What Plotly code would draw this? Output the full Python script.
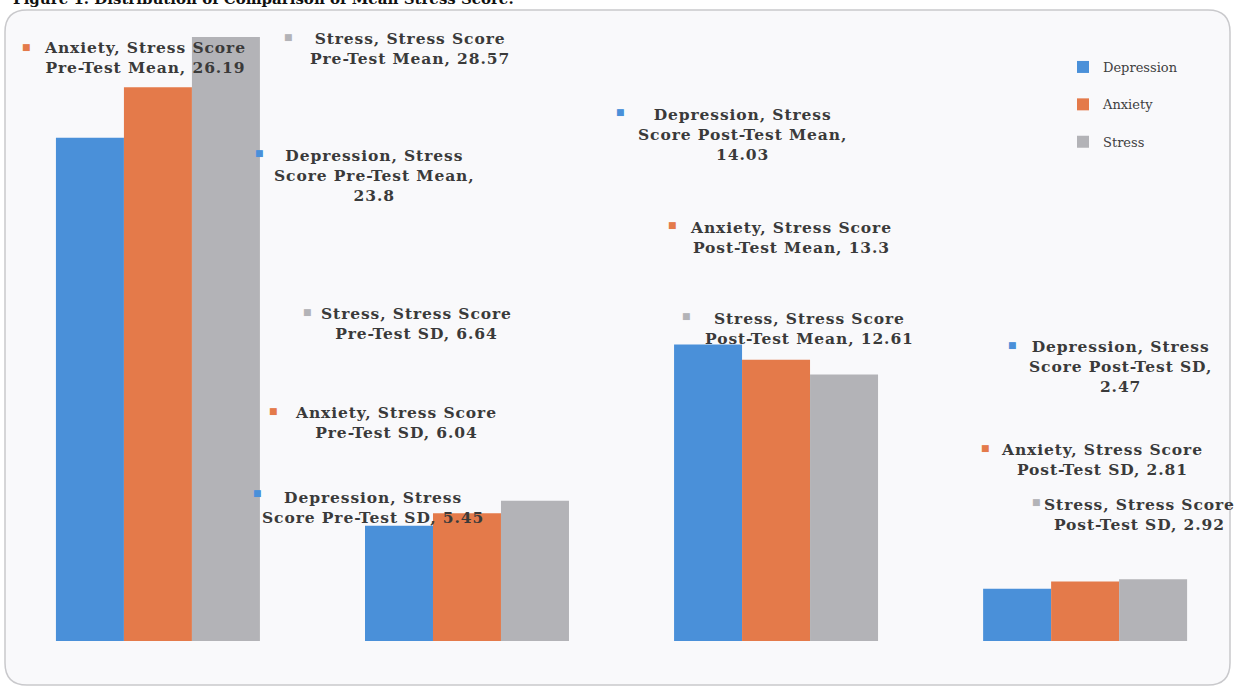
import plotly.graph_objects as go

# ---- data ----
categories = ["Stress Score Pre-Test Mean", "Stress Score Pre-Test SD",
              "Stress Score Post-Test Mean", "Stress Score Post-Test SD"]
short_cats = ["Pre-Test Mean", "Pre-Test SD", "Post-Test Mean", "Post-Test SD"]
depression = [23.8, 5.45, 14.03, 2.47]
anxiety = [26.19, 6.04, 13.3, 2.81]
stress = [28.57, 6.64, 12.61, 2.92]
series_names = ["Depression", "Anxiety", "Stress"]

# ---- styles / layout ----
W, H = 1235, 689
colors = ["#4A90D9", "#E47A4A", "#B3B3B7"]
label_color = "#3a3a3a"
serif = "DejaVu Serif, serif"
PLOT_BOTTOM = 641  # px of baseline

# label layout: (series index, category index) -> (text centre px x, y, square px x, y, wrap style)
label_layout = {
    (1, 0): (145, 57, 26, 47, "two_a"),
    (2, 0): (410, 48, 288, 37, "two_a"),
    (0, 0): (374, 175, 259, 153, "three"),
    (2, 1): (416, 323, 307, 312, "two_a"),
    (1, 1): (396, 422, 273, 411, "two_a"),
    (0, 1): (373, 507, 257, 493, "two_b"),
    (0, 2): (743, 134, 620, 112, "three"),
    (1, 2): (791, 237, 672, 225, "two_a"),
    (2, 2): (809, 328, 686, 316, "two_a"),
    (0, 3): (1120, 367, 1012, 345, "three"),
    (1, 3): (1102, 459, 985, 448, "two_a"),
    (2, 3): (1139, 514, 1036, 502, "two_a"),
}


def px_x(px):
    return px / W


def px_y(py):
    return (PLOT_BOTTOM - py) / PLOT_BOTTOM


def fmt(v):
    s = ("%.2f" % v).rstrip("0").rstrip(".")
    return s


def label_text(name, cat, val, style):
    v = fmt(val)
    if style == "two_a":
        lines = [f"{name}, Stress Score", f"{cat}, {v}"]
    elif style == "two_b":
        lines = [f"{name}, Stress", f"Score {cat}, {v}"]
    else:
        lines = [f"{name}, Stress", f"Score {cat},", v]
    sp = '<span style="letter-spacing:0.9px">'
    return "<br>".join(f"{sp}<b>{ln}</b></span>" for ln in lines)


fig = go.Figure()
all_vals = [depression, anxiety, stress]
for i, (name, vals) in enumerate(zip(series_names, all_vals)):
    fig.add_trace(go.Bar(
        x=categories, y=vals, name=name, marker_color=colors[i],
        marker_line_width=0, legendgroup=name,
    ))

annotations = []
for i, (name, vals) in enumerate(zip(series_names, all_vals)):
    for j, v in enumerate(vals):
        tx, ty, sx, sy, style = label_layout[(i, j)]
        annotations.append(dict(
            x=px_x(tx), y=px_y(ty), xref="paper", yref="paper",
            text=label_text(name, short_cats[j], v, style),
            showarrow=False, align="center", xanchor="center", yanchor="middle",
            font=dict(family=serif, size=15.5, color=label_color),
        ))
        annotations.append(dict(
            x=px_x(sx), y=px_y(sy), xref="paper", yref="paper",
            text="■", showarrow=False, xanchor="center", yanchor="middle",
            font=dict(family="DejaVu Sans", size=9, color=colors[i]),
        ))

# title (cut off at top of the image)
annotations.append(dict(
    x=px_x(516), y=px_y(10), xref="paper", yref="paper",
    text="<b>Figure 1. Distribution of Comparison of Mean Stress Score.</b>",
    showarrow=False, xanchor="right", yanchor="bottom",
    font=dict(family=serif, size=15, color="#111111"),
))

# rounded frame
x0, x1 = px_x(5), px_x(1230)
y0, y1 = px_y(685), px_y(10)
r = 22
rx, ry = r / W, r / PLOT_BOTTOM
path = (f"M {x0+rx},{y1} L {x1-rx},{y1} Q {x1},{y1} {x1},{y1-ry} "
        f"L {x1},{y0+ry} Q {x1},{y0} {x1-rx},{y0} L {x0+rx},{y0} "
        f"Q {x0},{y0} {x0},{y0+ry} L {x0},{y1-ry} Q {x0},{y1} {x0+rx},{y1} Z")

fig.update_layout(
    width=W, height=H,
    margin=dict(l=0, r=0, t=0, b=H - PLOT_BOTTOM),
    paper_bgcolor="white", plot_bgcolor="rgba(0,0,0,0)",
    barmode="group", bargap=0.34, bargroupgap=0,
    xaxis=dict(range=[-0.511, 3.485], visible=False),
    yaxis=dict(range=[0, PLOT_BOTTOM / 21.14], visible=False),
    showlegend=True,
    legend=dict(x=px_x(1063), y=px_y(52), xanchor="left", yanchor="top",
                bgcolor="rgba(0,0,0,0)", tracegroupgap=17.5,
                font=dict(family=serif, size=13, color="#404040"),
                itemwidth=30),
    annotations=annotations,
    shapes=[dict(type="path", path=path, xref="paper", yref="paper",
                 line=dict(color="#c9c9cc", width=1.5),
                 fillcolor="#f9f9fb", layer="below")],
)

fig.write_html("out.html")
